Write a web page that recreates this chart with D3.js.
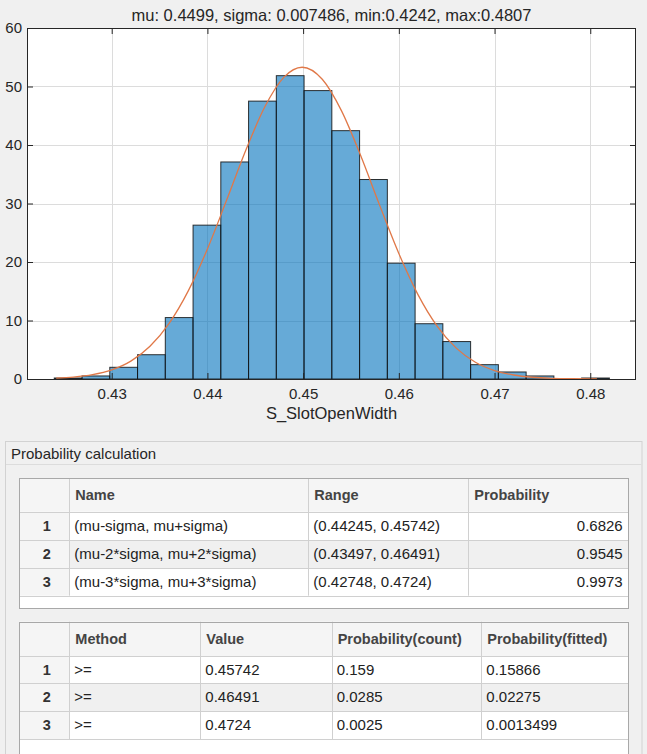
<!DOCTYPE html>
<html>
<head>
<meta charset="utf-8">
<script src="https://cdn.jsdelivr.net/npm/d3@7"></script>
<style>
  body { margin: 0; background: #f0f0f0; }
  svg { display: block; font-family: "Liberation Sans", Arial, Helvetica, sans-serif; }
</style>
</head>
<body>
<svg id="fig" width="647" height="754"></svg>
<script>
// histogram (pdf normalised)
const binEdges = [0.4240, 0.4269, 0.4298, 0.4327, 0.4356, 0.4385, 0.4414, 0.4443, 0.4472, 0.4501,
                  0.4530, 0.4559, 0.4588, 0.4617, 0.4646, 0.4675, 0.4704, 0.4733, 0.4762, 0.4791, 0.4820];
const binValues = [0.17, 0.52, 2.0, 4.15, 10.5, 26.3, 37.1, 47.5, 51.85, 49.3,
                   42.45, 34.1, 19.8, 9.45, 6.4, 2.45, 1.2, 0.52, 0, 0.17];

// fitted normal curve, sample points
const fitX = [0.4242, 0.4260, 0.4280, 0.4300, 0.4320, 0.4340, 0.4360, 0.4380, 0.4400, 0.4420,
              0.4440, 0.4460, 0.4480, 0.4499, 0.4520, 0.4540, 0.4560, 0.4580, 0.4600, 0.4620,
              0.4640, 0.4660, 0.4680, 0.4700, 0.4720, 0.4740, 0.4760, 0.4780, 0.4807];
const fitY = [0.147, 0.326, 0.739, 1.557, 3.056, 5.584, 9.505, 15.06, 22.23, 30.54,
              39.06, 46.53, 51.60, 53.29, 51.23, 45.87, 38.23, 29.68, 21.45, 14.43,
              9.041, 5.275, 2.865, 1.449, 0.683, 0.300, 0.122, 0.046, 0.011];

const xTicks = [0.43, 0.44, 0.45, 0.46, 0.47, 0.48];
const yTicks = [0, 10, 20, 30, 40, 50, 60];
const titleText = "mu: 0.4499, sigma: 0.007486, min:0.4242, max:0.4807";
const xLabelText = "S_SlotOpenWidth";

// tables
const panelTitle = "Probability calculation";
const t1Header = ["Name", "Range", "Probability"];
const t1Names = ["(mu-sigma, mu+sigma)", "(mu-2*sigma, mu+2*sigma)", "(mu-3*sigma, mu+3*sigma)"];
const t1Lo = ["0.44245", "0.43497", "0.42748"];
const t1Hi = ["0.45742", "0.46491", "0.4724"];
const t1Prob = ["0.6826", "0.9545", "0.9973"];

const t2Header = ["Method", "Value", "Probability(count)", "Probability(fitted)"];
const t2Method = [">=", ">=", ">="];
const t2Value = ["0.45742", "0.46491", "0.4724"];
const t2Count = ["0.159", "0.0285", "0.0025"];
const t2Fitted = ["0.15866", "0.02275", "0.0013499"];

const svg = d3.select('#fig');
const axCol = '#262626';

// ---------- histogram axes ----------
const axL = 27, axR = 636, axT = 28, axB = 379;
const x = d3.scaleLinear().domain([0.42115, 0.48478]).range([axL, axR]);
const y = d3.scaleLinear().domain([0, 60]).range([axB, axT]);

svg.append('rect')
  .attr('x', axL).attr('y', axT)
  .attr('width', axR - axL).attr('height', axB - axT)
  .attr('fill', '#fff');

// grid
const grid = svg.append('g').attr('stroke', '#dcdcdc').attr('stroke-width', 1);
grid.selectAll('.gx').data(xTicks).enter().append('line')
  .attr('x1', d => Math.round(x(d)) + 0.5).attr('x2', d => Math.round(x(d)) + 0.5)
  .attr('y1', axT).attr('y2', axB);
grid.selectAll('.gy').data(yTicks).enter().append('line')
  .attr('x1', axL).attr('x2', axR)
  .attr('y1', d => Math.round(y(d)) + 0.5).attr('y2', d => Math.round(y(d)) + 0.5);

// bars
const bins = binValues.map((v, i) => ({ x0: binEdges[i], x1: binEdges[i + 1], v: v }))
  .filter(d => d.v > 0);

svg.append('g')
  .selectAll('rect')
  .data(bins)
  .enter()
  .append('rect')
  .attr('x', d => x(d.x0))
  .attr('width', d => x(d.x1) - x(d.x0))
  .attr('y', d => y(d.v))
  .attr('height', d => y(0) - y(d.v))
  .attr('fill', '#0072BD')
  .attr('fill-opacity', 0.6)
  .attr('stroke', '#111')
  .attr('stroke-opacity', 0.85)
  .attr('stroke-width', 1);

// fitted curve
const line = d3.line()
  .x((d, i) => x(fitX[i]))
  .y(d => y(d))
  .curve(d3.curveMonotoneX);

svg.append('path')
  .datum(fitY)
  .attr('d', line)
  .attr('fill', 'none')
  .attr('stroke', '#e07848')
  .attr('stroke-width', 1.3);

// ticks on all four sides (inward)
const tickLen = 6;
svg.append('g')
  .attr('transform', `translate(0, ${axB})`)
  .call(d3.axisBottom(x).tickValues(xTicks).tickSize(-tickLen).tickPadding(9).tickFormat(d3.format('.2f')));
svg.append('g')
  .attr('transform', `translate(${axL}, 0)`)
  .call(d3.axisLeft(y).tickValues(yTicks).tickSize(-tickLen).tickPadding(5));
svg.append('g')
  .attr('transform', `translate(0, ${axT})`)
  .call(d3.axisTop(x).tickValues(xTicks).tickSize(-tickLen).tickFormat(''));
svg.append('g')
  .attr('transform', `translate(${axR}, 0)`)
  .call(d3.axisRight(y).tickValues(yTicks).tickSize(-tickLen).tickFormat(''));

svg.selectAll('.domain').remove();
svg.selectAll('.tick line').attr('stroke', axCol);
svg.selectAll('.tick text')
  .attr('fill', axCol)
  .attr('font-size', '15px')
  .attr('font-family', '"Liberation Sans", Arial, sans-serif');

// box
svg.append('rect')
  .attr('x', axL + 0.5).attr('y', axT + 0.5)
  .attr('width', axR - axL - 1).attr('height', axB - axT)
  .attr('fill', 'none')
  .attr('stroke', axCol);

svg.append('text')
  .attr('x', (axL + axR) / 2).attr('y', 21)
  .attr('text-anchor', 'middle')
  .attr('font-size', '16.5px')
  .attr('fill', axCol)
  .text(titleText);

svg.append('text')
  .attr('x', (axL + axR) / 2).attr('y', 419)
  .attr('text-anchor', 'middle')
  .attr('font-size', '16.5px')
  .attr('fill', axCol)
  .text(xLabelText);

// ---------- probability panel ----------
svg.append('rect')
  .attr('x', 5.5).attr('y', 441.5)
  .attr('width', 636.5).attr('height', 330)
  .attr('fill', '#f0f0f0')
  .attr('stroke', '#d2d2d2');
svg.append('line')
  .attr('x1', 6).attr('x2', 641.5)
  .attr('y1', 464.5).attr('y2', 464.5)
  .attr('stroke', '#dcdcdc');
svg.append('text')
  .attr('x', 11).attr('y', 459)
  .attr('font-size', '15px')
  .attr('fill', '#262626')
  .text(panelTitle);

function drawTable(colEdges, rowEdges, tableBottom, header, rows, align) {
  const g = svg.append('g');
  const x0 = colEdges[0], x1 = colEdges[colEdges.length - 1];
  const nRows = rows.length;

  // white body
  g.append('rect')
    .attr('x', x0).attr('y', rowEdges[0])
    .attr('width', x1 - x0).attr('height', tableBottom - rowEdges[0])
    .attr('fill', '#fff');
  // header row
  g.append('rect')
    .attr('x', x0).attr('y', rowEdges[0])
    .attr('width', x1 - x0).attr('height', rowEdges[1] - rowEdges[0])
    .attr('fill', '#f5f5f5');
  // row number column
  g.append('rect')
    .attr('x', x0).attr('y', rowEdges[1])
    .attr('width', colEdges[1] - x0).attr('height', rowEdges[nRows + 1] - rowEdges[1])
    .attr('fill', '#f5f5f5');
  // striped (even-numbered) rows
  const stripes = rows.map((r, i) => i).filter(i => i % 2 === 1);
  g.selectAll('.stripe')
    .data(stripes)
    .enter()
    .append('rect')
    .attr('x', colEdges[1]).attr('y', i => rowEdges[i + 1])
    .attr('width', x1 - colEdges[1])
    .attr('height', i => rowEdges[i + 2] - rowEdges[i + 1])
    .attr('fill', '#f0f0f0');

  // horizontal lines
  g.selectAll('.hl')
    .data(rowEdges.slice(1))
    .enter()
    .append('line')
    .attr('x1', x0).attr('x2', x1)
    .attr('y1', d => Math.round(d) + 0.5).attr('y2', d => Math.round(d) + 0.5)
    .attr('stroke', '#d0d0d0');
  // vertical lines
  g.selectAll('.vl')
    .data(colEdges.slice(1, -1))
    .enter()
    .append('line')
    .attr('x1', d => Math.round(d) + 0.5).attr('x2', d => Math.round(d) + 0.5)
    .attr('y1', rowEdges[0]).attr('y2', rowEdges[nRows + 1])
    .attr('stroke', '#d0d0d0');
  // outer border
  g.append('rect')
    .attr('x', Math.round(x0) + 0.5).attr('y', Math.round(rowEdges[0]) + 0.5)
    .attr('width', Math.round(x1 - x0)).attr('height', Math.round(tableBottom - rowEdges[0]))
    .attr('fill', 'none')
    .attr('stroke', '#a8a8a8');

  // header text
  g.selectAll('.ht')
    .data(header)
    .enter()
    .append('text')
    .attr('x', (d, i) => colEdges[i + 1] + 6)
    .attr('y', (rowEdges[0] + rowEdges[1]) / 2 + 5.3)
    .attr('font-size', '14.5px')
    .attr('font-weight', 'bold')
    .attr('fill', '#444')
    .text(d => d);

  // row numbers
  g.selectAll('.rn')
    .data(rows)
    .enter()
    .append('text')
    .attr('x', (x0 + colEdges[1]) / 2 + 2.5)
    .attr('y', (d, i) => (rowEdges[i + 1] + rowEdges[i + 2]) / 2 + 5.3)
    .attr('text-anchor', 'middle')
    .attr('font-size', '14.5px')
    .attr('font-weight', 'bold')
    .attr('fill', '#333')
    .text((d, i) => i + 1);

  // cells
  rows.forEach((row, r) => {
    g.selectAll('.c' + r)
      .data(row)
      .enter()
      .append('text')
      .attr('x', (d, c) => align[c] === 'end' ? colEdges[c + 2] - 6 : colEdges[c + 1] + 5)
      .attr('y', (rowEdges[r + 1] + rowEdges[r + 2]) / 2 + 5.3)
      .attr('text-anchor', (d, c) => align[c])
      .attr('font-size', '15px')
      .attr('fill', '#222')
      .text(d => d);
  });
}

const t1Rows = t1Names.map((n, i) => [n, `(${t1Lo[i]}, ${t1Hi[i]})`, t1Prob[i]]);
drawTable([19.3, 69.3, 308.3, 468.3, 628.7], [478.3, 511.7, 540, 568.3, 595.7], 608.3,
          t1Header, t1Rows, ['start', 'start', 'end']);

const t2Rows = t2Method.map((m, i) => [m, t2Value[i], t2Count[i], t2Fitted[i]]);
drawTable([19.3, 69.3, 200.3, 331.7, 481.3, 628.7], [621.7, 656, 683.3, 711, 739.3], 770,
          t2Header, t2Rows, ['start', 'start', 'start', 'start']);
</script>
</body>
</html>
